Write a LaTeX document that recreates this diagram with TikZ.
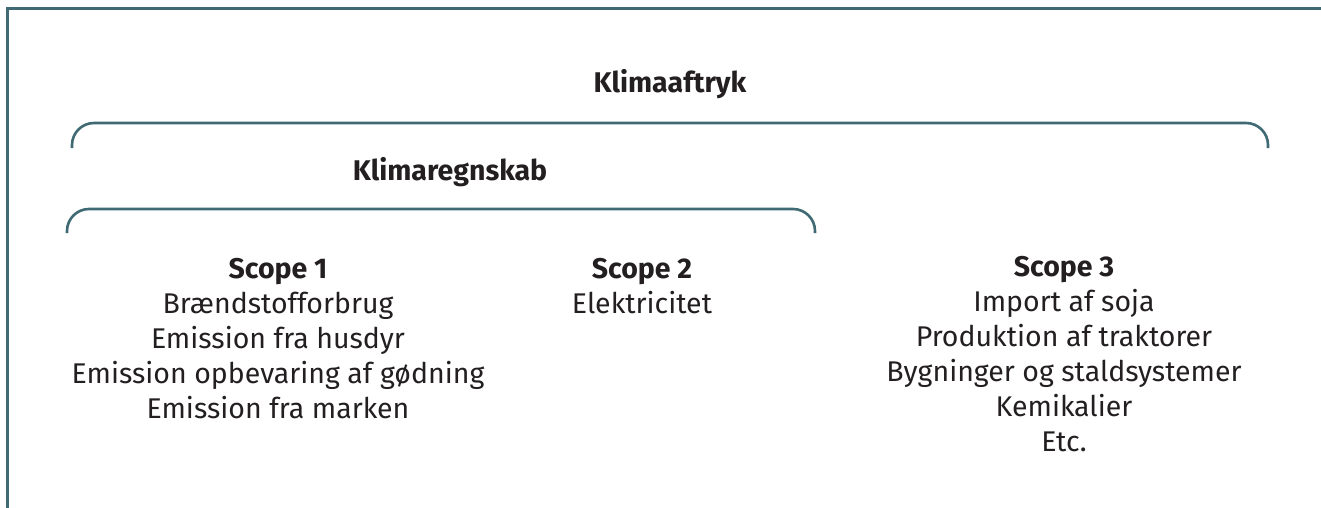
\documentclass[tikz,border=0pt]{standalone}
\usepackage{fontspec}
\setmainfont{Fira Sans}
\usepackage{xcolor}
\usetikzlibrary{positioning}

\definecolor{frameteal}{HTML}{3F6A73}
\definecolor{txtgray}{HTML}{231F20}

\begin{document}
\begin{tikzpicture}[
    x=1pt, y=-1pt,
    frame/.style={draw=frameteal, line width=3pt},
    brace/.style={draw=frameteal, line width=2.6pt, rounded corners=22pt},
    title/.style={font=\fontsize{28.5}{32}\selectfont\bfseries, text=txtgray, inner sep=0},
    scopetxt/.style={align=center, font=\fontsize{28.5}{35}\selectfont, text=txtgray, inner sep=0, anchor=north}
]
    \useasboundingbox (0,0) rectangle (1321,508);
    \draw[frame] (7.5,508) -- (7.5,8.5) -- (1321,8.5);

    % the two brackets
    \draw[brace] (72,148) -- (72,123) -- (1268,123) -- (1268,148);
    \draw[brace] (67,233) -- (67,209) -- (815,209) -- (815,233);

    \node[title] at (670,84) (aftryk) {Klimaaftryk};
    \node[title] at (450,172) (regnskab) {Klimaregnskab};

    \node[scopetxt] at (278,258) (scope1) {\textbf{Scope 1}\\Brændstofforbrug\\Emission fra husdyr\\Emission opbevaring af gødning\\Emission fra marken};
    \node[scopetxt] at (642,258) (scope2) {\textbf{Scope 2}\\Elektricitet};
    \node[scopetxt] at (1064,256) (scope3) {\textbf{Scope 3}\\Import af soja\\Produktion af traktorer\\Bygninger og staldsystemer\\Kemikalier\\Etc.};
\end{tikzpicture}
\end{document}
